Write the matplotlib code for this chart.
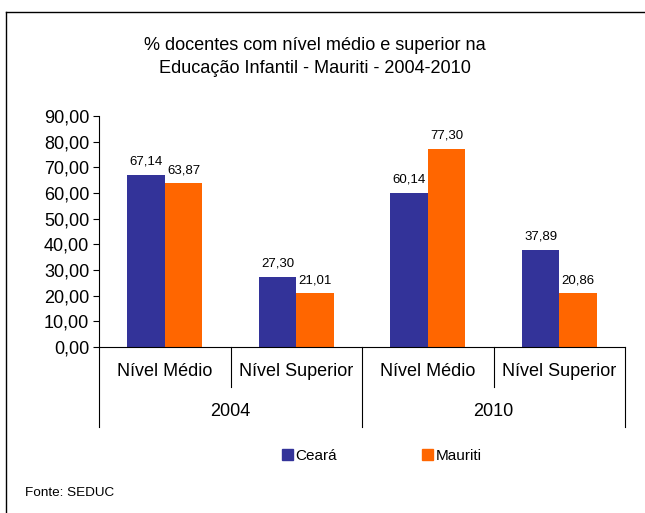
import matplotlib.pyplot as plt
import matplotlib.lines as mlines
import matplotlib.patches as mpatches
import numpy as np

plt.rcParams['font.family'] = ['Liberation Sans', 'DejaVu Sans']

# data
categories = ["Nível Médio", "Nível Superior", "Nível Médio", "Nível Superior"]
years = ["2004", "2010"]
ceara = [67.14, 27.30, 60.14, 37.89]
mauriti = [63.87, 21.01, 77.30, 20.86]
yticks = [0, 10, 20, 30, 40, 50, 60, 70, 80, 90]

blue = "#333399"
orange = "#FF6600"

fig = plt.figure(figsize=(6.45, 5.13), dpi=100)
ax = fig.add_axes([0.1535, 0.3236, 0.8155, 0.4503])

x = np.arange(len(categories))
w = 0.285
b1 = ax.bar(x - w / 2, ceara, w, color=blue, label="Ceará")
b2 = ax.bar(x + w / 2, mauriti, w, color=orange, label="Mauriti")

def fmt(v):
    return f"{v:.2f}".replace(".", ",")

for bars, vals in ((b1, ceara), (b2, mauriti)):
    for bar, v in zip(bars, vals):
        ax.annotate(fmt(v), (bar.get_x() + bar.get_width() / 2, v),
                    xytext=(0, 5), textcoords="offset points",
                    ha="center", va="bottom", fontsize=9.5)

ax.set_xlim(-0.5, len(categories) - 0.5)
ax.set_ylim(0, 90)
ax.set_yticks(yticks)
ax.set_yticklabels([fmt(t) for t in yticks], fontsize=13)
ax.tick_params(axis="y", length=4, width=0.8, pad=3)
ax.set_xticks([])
for s in ("top", "right"):
    ax.spines[s].set_visible(False)
ax.spines["left"].set_linewidth(0.8)
ax.spines["bottom"].set_linewidth(0.8)

# multi-level category axis
tr = ax.get_xaxis_transform()
for i, c in enumerate(categories):
    ax.text(i, -0.108, c, transform=tr, ha="center", va="center", fontsize=13)
for k, yname in enumerate(years):
    ax.text(2 * k + 0.5, -0.28, yname, transform=tr, ha="center", va="center", fontsize=13)
for b in [-0.5, 0.5, 1.5, 2.5, 3.5]:
    low = -0.173 if b in (0.5, 2.5) else -0.346
    ax.plot([b, b], [0, low], transform=tr, color="black", lw=0.8, clip_on=False)

# legend
h1 = mpatches.Patch(color=blue, label="Ceará")
h2 = mpatches.Patch(color=orange, label="Mauriti")
fig.legend(handles=[h1, h2], loc="center", bbox_to_anchor=(0.592, 0.111), ncol=2,
           frameon=False, fontsize=11, handlelength=0.7, handleheight=0.7,
           handletextpad=0.2, columnspacing=5.55)

fig.text(0.488, 0.912, "% docentes com nível médio e superior na", ha="center", va="center", fontsize=13.1)
fig.text(0.488, 0.867, "Educação Infantil - Mauriti - 2004-2010", ha="center", va="center", fontsize=13.1)
fig.text(0.039, 0.039, "Fonte: SEDUC", ha="left", va="center", fontsize=9.7)

# outer frame
fig.add_artist(mlines.Line2D([6 / 645, 6 / 645], [0, 1 - 12 / 513], transform=fig.transFigure, color="black", lw=1))
fig.add_artist(mlines.Line2D([6 / 645, 1], [1 - 12 / 513, 1 - 12 / 513], transform=fig.transFigure, color="black", lw=1))

plt.savefig("out.png", dpi=100)
